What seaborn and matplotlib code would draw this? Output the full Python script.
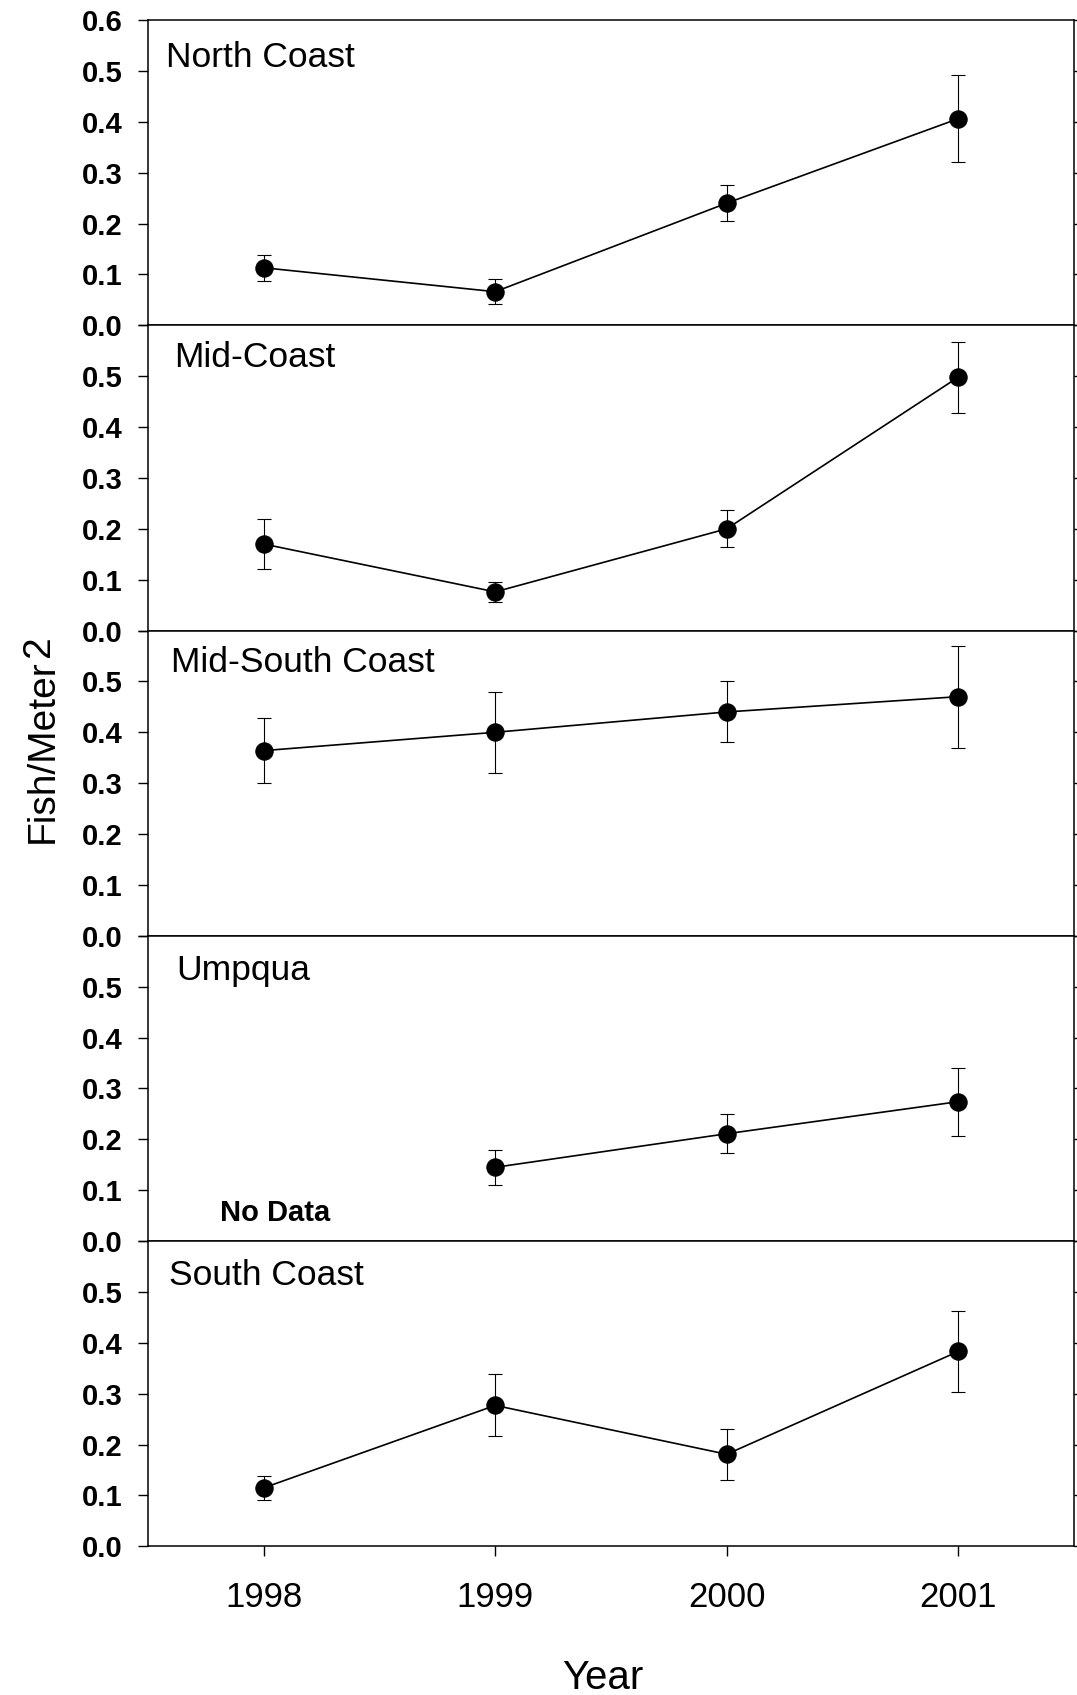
import numpy as np
import pandas as pd
import matplotlib
matplotlib.use("Agg")
import matplotlib.pyplot as plt
import seaborn as sns

# ---- data ----
years = [1998, 1999, 2000, 2001]
regions = ["North Coast", "Mid-Coast", "Mid-South Coast", "Umpqua", "South Coast"]

north_mean = [0.113, 0.066, 0.240, 0.406]
north_se = [0.026, 0.025, 0.036, 0.085]
mid_mean = [0.170, 0.076, 0.200, 0.498]
mid_se = [0.050, 0.019, 0.036, 0.070]
midsouth_mean = [0.364, 0.400, 0.440, 0.470]
midsouth_se = [0.064, 0.080, 0.060, 0.100]
umpqua_mean = [np.nan, 0.145, 0.211, 0.274]
umpqua_se = [np.nan, 0.034, 0.038, 0.067]
south_mean = [0.115, 0.277, 0.181, 0.383]
south_se = [0.024, 0.061, 0.050, 0.080]

means = [north_mean, mid_mean, midsouth_mean, umpqua_mean, south_mean]
errs = [north_se, mid_se, midsouth_se, umpqua_se, south_se]
ytick_vals = [0.0, 0.1, 0.2, 0.3, 0.4, 0.5, 0.6]

# panel-title placement (axes fraction)
title_x = [0.019, 0.028, 0.025, 0.030, 0.023]
title_y = [0.847, 0.862, 0.863, 0.855, 0.855]

sns.set_theme(style="ticks")
plt.rcParams['font.family'] = ['Liberation Sans', 'DejaVu Sans']
plt.rcParams['axes.edgecolor'] = 'black'
plt.rcParams['xtick.color'] = 'black'
plt.rcParams['ytick.color'] = 'black'
plt.rcParams['text.color'] = 'black'

fig = plt.figure(figsize=(10.77, 16.95), dpi=100)
gs = fig.add_gridspec(5, 1, left=0.1374, right=0.9972, top=0.9882,
                      bottom=0.0877, hspace=0)

for i, (name, m, e) in enumerate(zip(regions, means, errs)):
    ax = fig.add_subplot(gs[i])
    df = pd.DataFrame({"Year": years, "Density": m, "SE": e}).dropna()
    ax.errorbar(df["Year"], df["Density"], yerr=df["SE"], fmt='none',
                ecolor='black', elinewidth=0.8, capsize=5, capthick=0.8,
                zorder=2)
    sns.lineplot(data=df, x="Year", y="Density", ax=ax, color='black',
                 linewidth=1.2, marker='o', markersize=12.5,
                 markeredgecolor='black', markerfacecolor='black', zorder=3)
    ax.set_xlim(1997.5, 2001.5)
    ax.set_ylim(0, 0.6)
    ax.set_yticks(ytick_vals)
    labels = [f"{v:.1f}" for v in ytick_vals]
    if i > 0:
        labels[-1] = ""
    ax.set_yticklabels(labels, fontweight='bold', fontsize=21)
    ax.tick_params(axis='y', left=True, right=True, labelright=False,
                   direction='out', length=7, width=1, pad=11)
    ax.set_xlabel("")
    ax.set_ylabel("")
    if i < 4:
        ax.tick_params(axis='x', bottom=False, labelbottom=False)
    else:
        ax.set_xticks(years)
        ax.set_xticklabels([str(y) for y in years], fontsize=25)
        ax.tick_params(axis='x', bottom=True, direction='out', length=7,
                       width=1, pad=18)
    for sp in ax.spines.values():
        sp.set_visible(True)
        sp.set_linewidth(1.1)
        sp.set_color('black')
    ax.text(title_x[i], title_y[i], name, transform=ax.transAxes,
            fontsize=25.5, va='baseline', ha='left')
    if name == "Umpqua":
        ax.text(1998.05, 0.04, "No Data", fontsize=21, fontweight='bold',
                ha='center', va='baseline')

# y-axis label with full-size raised "2"
W, H = 1077, 1695
t1 = fig.text(53 / W, 1 - 843 / H, "Fish/Meter", rotation=90,
              rotation_mode='anchor', ha='left', va='baseline', fontsize=28)
fig.canvas.draw()
bb = t1.get_window_extent(renderer=fig.canvas.get_renderer())
fig.text(49 / W, (bb.y1 + 2) / H, "2", rotation=90, rotation_mode='anchor',
         ha='left', va='baseline', fontsize=28)

fig.text(603 / W, 1 - 1689 / H, "Year", ha='center', va='baseline',
         fontsize=29)

fig.savefig("out.png", dpi=100, facecolor='white')
